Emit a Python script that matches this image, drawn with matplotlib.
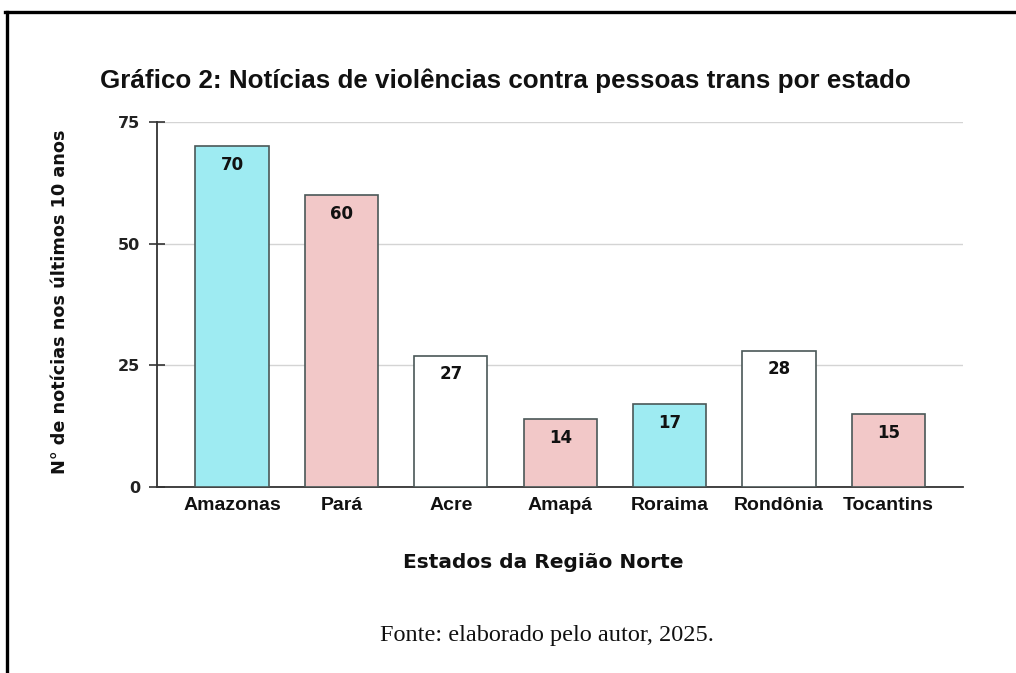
import matplotlib
matplotlib.use("Agg")
import matplotlib.pyplot as plt
from matplotlib.lines import Line2D

estados = ["Amazonas", "Pará", "Acre", "Amapá", "Roraima", "Rondônia", "Tocantins"]
valores = [70, 60, 27, 14, 17, 28, 15]
cores = ["#9eebf2", "#f2c8c8", "#ffffff", "#f2c8c8", "#9eebf2", "#ffffff", "#f2c8c8"]
yticks = [0, 25, 50, 75]

W, H = 1016, 673
fig = plt.figure(figsize=(W / 100, H / 100), dpi=100)
fig.patch.set_facecolor("white")

# page border (top and left)
fig.add_artist(Line2D([5 / W, 1.0], [1 - 12 / H, 1 - 12 / H], transform=fig.transFigure, color="black", lw=2.4))
fig.add_artist(Line2D([7 / W, 7 / W], [1 - 12 / H, 0], transform=fig.transFigure, color="black", lw=2.4))

L, R, T, B = 157, 963, 122, 487
ax = fig.add_axes([L / W, 1 - B / H, (R - L) / W, (B - T) / H])
x = list(range(len(estados)))
ax.bar(x, valores, width=0.67, color=cores, edgecolor="#4a5858", linewidth=1.2, zorder=3)
ax.set_xlim(-0.685, len(estados) - 1 + 0.68)
ax.set_ylim(0, 75)
ax.set_yticks(yticks)
ax.set_yticklabels([str(t) for t in yticks], fontfamily="DejaVu Sans", fontweight="bold", fontsize=11.5, color="#222222")
ax.tick_params(axis="y", direction="inout", length=12, width=1.2, color="#333333", pad=6)
ax.set_xticks(x)
ax.set_xticklabels(estados, fontfamily="Liberation Sans", fontweight="bold", fontsize=14, color="#111111")
ax.tick_params(axis="x", length=0, pad=7)
ax.grid(axis="y", color="#d4d4d4", linewidth=1.0, zorder=0)
ax.set_axisbelow(True)
for s in ["top", "right"]:
    ax.spines[s].set_visible(False)
for s in ["left", "bottom"]:
    ax.spines[s].set_color("#333333")
    ax.spines[s].set_linewidth(1.3)

for xi, v in zip(x, valores):
    ax.annotate(str(v), (xi, v), xytext=(0, -13.5), textcoords="offset points", ha="center", va="center",
                fontfamily="DejaVu Sans", fontweight="bold", fontsize=12, color="#111111", zorder=4)

fig.text(100 / W, 1 - 81 / H, "Gráfico 2: Notícias de violências contra pessoas trans por estado",
         ha="left", va="center", fontfamily="Liberation Sans", fontweight="bold", fontsize=18.7, color="#111111")
fig.text(543 / W, 1 - 563 / H, "Estados da Região Norte", ha="center", va="center",
         fontfamily="DejaVu Sans", fontweight="bold", fontsize=14.5, color="#111111")
fig.text(60 / W, 1 - 302 / H, "N° de notícias nos últimos 10 anos", ha="center", va="center", rotation=90,
         fontfamily="DejaVu Sans", fontweight="bold", fontsize=12.7, color="#111111")
fig.text(547 / W, 1 - 636 / H, "Fonte: elaborado pelo autor, 2025.", ha="center", va="center",
         fontfamily="Liberation Serif", fontsize=17.5, color="#111111")

fig.savefig("out.png", dpi=100)
